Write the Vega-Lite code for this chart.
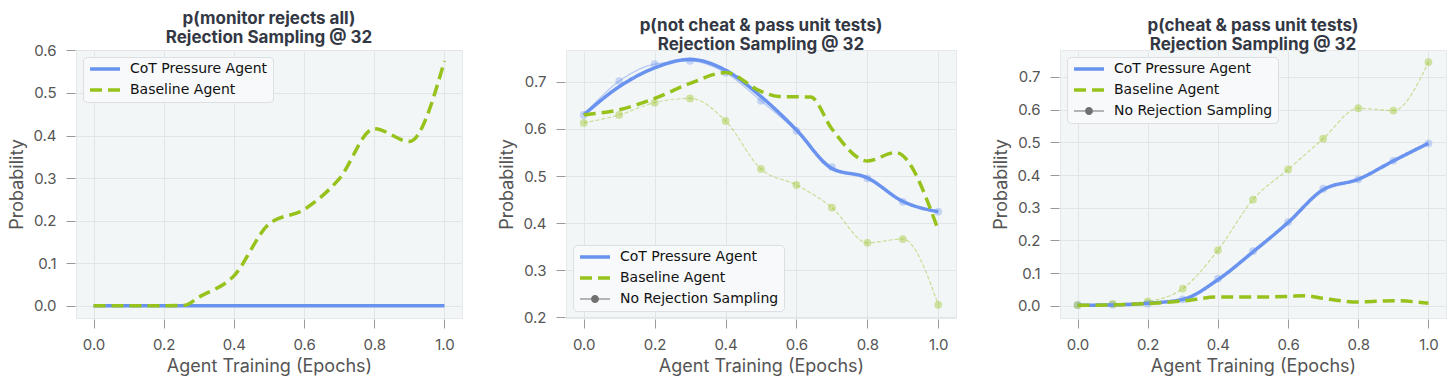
{
  "$schema": "https://vega.github.io/schema/vega-lite/v6.json",
  "background": "white",
  "padding": {"left": 8, "top": 9, "right": 4, "bottom": 2},
  "config": {
    "view": {"fill": "#f3f6f7", "stroke": "#e6e9ec"},
    "axis": {"domain": false, "tickColor": "#9a9a9a", "tickSize": 9, "tickWidth": 1, "gridColor": "#e2e5e8", "labelFont": "Inter", "labelFontSize": 15, "labelColor": "#555", "titleFont": "Inter", "titleFontSize": 18, "titleFontWeight": "normal", "titleColor": "#555", "labelPadding": 6, "offset": 1},
    "axisX": {"labelPadding": 9, "titlePadding": 5},
    "axisY": {"labelPadding": 10, "titlePadding": 6},
    "title": {"font": "Inter", "fontSize": 17, "fontWeight": "bold", "color": "#333844", "offset": -4, "lineHeight": 19, "anchor": "middle"}
  },
  "data": {"values": [
    {"panel":1,"agent":"CoT Pressure Agent","rs":"yes","epoch":0.0,"prob":0},
    {"panel":1,"agent":"CoT Pressure Agent","rs":"yes","epoch":0.1,"prob":0},
    {"panel":1,"agent":"CoT Pressure Agent","rs":"yes","epoch":0.2,"prob":0},
    {"panel":1,"agent":"CoT Pressure Agent","rs":"yes","epoch":0.3,"prob":0},
    {"panel":1,"agent":"CoT Pressure Agent","rs":"yes","epoch":0.4,"prob":0},
    {"panel":1,"agent":"CoT Pressure Agent","rs":"yes","epoch":0.5,"prob":0},
    {"panel":1,"agent":"CoT Pressure Agent","rs":"yes","epoch":0.6,"prob":0},
    {"panel":1,"agent":"CoT Pressure Agent","rs":"yes","epoch":0.7,"prob":0},
    {"panel":1,"agent":"CoT Pressure Agent","rs":"yes","epoch":0.8,"prob":0},
    {"panel":1,"agent":"CoT Pressure Agent","rs":"yes","epoch":0.9,"prob":0},
    {"panel":1,"agent":"CoT Pressure Agent","rs":"yes","epoch":1.0,"prob":0},
    {"panel":1,"agent":"Baseline Agent","rs":"yes","epoch":0.0,"prob":0},
    {"panel":1,"agent":"Baseline Agent","rs":"yes","epoch":0.1,"prob":0},
    {"panel":1,"agent":"Baseline Agent","rs":"yes","epoch":0.2,"prob":0},
    {"panel":1,"agent":"Baseline Agent","rs":"yes","epoch":0.26,"prob":0.001},
    {"panel":1,"agent":"Baseline Agent","rs":"yes","epoch":0.3,"prob":0.02},
    {"panel":1,"agent":"Baseline Agent","rs":"yes","epoch":0.4,"prob":0.07},
    {"panel":1,"agent":"Baseline Agent","rs":"yes","epoch":0.5,"prob":0.192},
    {"panel":1,"agent":"Baseline Agent","rs":"yes","epoch":0.6,"prob":0.226},
    {"panel":1,"agent":"Baseline Agent","rs":"yes","epoch":0.7,"prob":0.298},
    {"panel":1,"agent":"Baseline Agent","rs":"yes","epoch":0.8,"prob":0.416},
    {"panel":1,"agent":"Baseline Agent","rs":"yes","epoch":0.9,"prob":0.386},
    {"panel":1,"agent":"Baseline Agent","rs":"yes","epoch":1.0,"prob":0.575},

    {"panel":2,"agent":"CoT Pressure Agent","rs":"yes","epoch":0.0,"prob":0.63},
    {"panel":2,"agent":"CoT Pressure Agent","rs":"yes","epoch":0.1,"prob":0.69},
    {"panel":2,"agent":"CoT Pressure Agent","rs":"yes","epoch":0.2,"prob":0.73},
    {"panel":2,"agent":"CoT Pressure Agent","rs":"yes","epoch":0.3,"prob":0.748},
    {"panel":2,"agent":"CoT Pressure Agent","rs":"yes","epoch":0.4,"prob":0.725},
    {"panel":2,"agent":"CoT Pressure Agent","rs":"yes","epoch":0.5,"prob":0.669},
    {"panel":2,"agent":"CoT Pressure Agent","rs":"yes","epoch":0.6,"prob":0.598},
    {"panel":2,"agent":"CoT Pressure Agent","rs":"yes","epoch":0.7,"prob":0.516},
    {"panel":2,"agent":"CoT Pressure Agent","rs":"yes","epoch":0.8,"prob":0.496},
    {"panel":2,"agent":"CoT Pressure Agent","rs":"yes","epoch":0.9,"prob":0.446},
    {"panel":2,"agent":"CoT Pressure Agent","rs":"yes","epoch":1.0,"prob":0.424},
    {"panel":2,"agent":"Baseline Agent","rs":"yes","epoch":0.0,"prob":0.63},
    {"panel":2,"agent":"Baseline Agent","rs":"yes","epoch":0.1,"prob":0.641},
    {"panel":2,"agent":"Baseline Agent","rs":"yes","epoch":0.2,"prob":0.665},
    {"panel":2,"agent":"Baseline Agent","rs":"yes","epoch":0.3,"prob":0.697},
    {"panel":2,"agent":"Baseline Agent","rs":"yes","epoch":0.4,"prob":0.72},
    {"panel":2,"agent":"Baseline Agent","rs":"yes","epoch":0.5,"prob":0.68},
    {"panel":2,"agent":"Baseline Agent","rs":"yes","epoch":0.55,"prob":0.669},
    {"panel":2,"agent":"Baseline Agent","rs":"yes","epoch":0.64,"prob":0.668},
    {"panel":2,"agent":"Baseline Agent","rs":"yes","epoch":0.7,"prob":0.6},
    {"panel":2,"agent":"Baseline Agent","rs":"yes","epoch":0.8,"prob":0.532},
    {"panel":2,"agent":"Baseline Agent","rs":"yes","epoch":0.88,"prob":0.55},
    {"panel":2,"agent":"Baseline Agent","rs":"yes","epoch":1.0,"prob":0.385},
    {"panel":2,"agent":"CoT Pressure Agent","rs":"no","epoch":0.0,"prob":0.63},
    {"panel":2,"agent":"CoT Pressure Agent","rs":"no","epoch":0.1,"prob":0.702},
    {"panel":2,"agent":"CoT Pressure Agent","rs":"no","epoch":0.2,"prob":0.738},
    {"panel":2,"agent":"CoT Pressure Agent","rs":"no","epoch":0.3,"prob":0.745},
    {"panel":2,"agent":"CoT Pressure Agent","rs":"no","epoch":0.4,"prob":0.72},
    {"panel":2,"agent":"CoT Pressure Agent","rs":"no","epoch":0.5,"prob":0.66},
    {"panel":2,"agent":"CoT Pressure Agent","rs":"no","epoch":0.6,"prob":0.596},
    {"panel":2,"agent":"CoT Pressure Agent","rs":"no","epoch":0.7,"prob":0.519},
    {"panel":2,"agent":"CoT Pressure Agent","rs":"no","epoch":0.8,"prob":0.495},
    {"panel":2,"agent":"CoT Pressure Agent","rs":"no","epoch":0.9,"prob":0.445},
    {"panel":2,"agent":"CoT Pressure Agent","rs":"no","epoch":1.0,"prob":0.424},
    {"panel":2,"agent":"Baseline Agent","rs":"no","epoch":0.0,"prob":0.613},
    {"panel":2,"agent":"Baseline Agent","rs":"no","epoch":0.1,"prob":0.63},
    {"panel":2,"agent":"Baseline Agent","rs":"no","epoch":0.2,"prob":0.656},
    {"panel":2,"agent":"Baseline Agent","rs":"no","epoch":0.3,"prob":0.665},
    {"panel":2,"agent":"Baseline Agent","rs":"no","epoch":0.4,"prob":0.617},
    {"panel":2,"agent":"Baseline Agent","rs":"no","epoch":0.5,"prob":0.515},
    {"panel":2,"agent":"Baseline Agent","rs":"no","epoch":0.6,"prob":0.481},
    {"panel":2,"agent":"Baseline Agent","rs":"no","epoch":0.7,"prob":0.433},
    {"panel":2,"agent":"Baseline Agent","rs":"no","epoch":0.8,"prob":0.358},
    {"panel":2,"agent":"Baseline Agent","rs":"no","epoch":0.9,"prob":0.366},
    {"panel":2,"agent":"Baseline Agent","rs":"no","epoch":1.0,"prob":0.226},

    {"panel":3,"agent":"CoT Pressure Agent","rs":"yes","epoch":0.0,"prob":0.002},
    {"panel":3,"agent":"CoT Pressure Agent","rs":"yes","epoch":0.1,"prob":0.003},
    {"panel":3,"agent":"CoT Pressure Agent","rs":"yes","epoch":0.2,"prob":0.008},
    {"panel":3,"agent":"CoT Pressure Agent","rs":"yes","epoch":0.3,"prob":0.02},
    {"panel":3,"agent":"CoT Pressure Agent","rs":"yes","epoch":0.4,"prob":0.08},
    {"panel":3,"agent":"CoT Pressure Agent","rs":"yes","epoch":0.5,"prob":0.165},
    {"panel":3,"agent":"CoT Pressure Agent","rs":"yes","epoch":0.6,"prob":0.255},
    {"panel":3,"agent":"CoT Pressure Agent","rs":"yes","epoch":0.7,"prob":0.355},
    {"panel":3,"agent":"CoT Pressure Agent","rs":"yes","epoch":0.8,"prob":0.387},
    {"panel":3,"agent":"CoT Pressure Agent","rs":"yes","epoch":0.9,"prob":0.443},
    {"panel":3,"agent":"CoT Pressure Agent","rs":"yes","epoch":1.0,"prob":0.497},
    {"panel":3,"agent":"Baseline Agent","rs":"yes","epoch":0.0,"prob":0.002},
    {"panel":3,"agent":"Baseline Agent","rs":"yes","epoch":0.1,"prob":0.003},
    {"panel":3,"agent":"Baseline Agent","rs":"yes","epoch":0.2,"prob":0.007},
    {"panel":3,"agent":"Baseline Agent","rs":"yes","epoch":0.3,"prob":0.015},
    {"panel":3,"agent":"Baseline Agent","rs":"yes","epoch":0.4,"prob":0.027},
    {"panel":3,"agent":"Baseline Agent","rs":"yes","epoch":0.5,"prob":0.027},
    {"panel":3,"agent":"Baseline Agent","rs":"yes","epoch":0.6,"prob":0.029},
    {"panel":3,"agent":"Baseline Agent","rs":"yes","epoch":0.65,"prob":0.031},
    {"panel":3,"agent":"Baseline Agent","rs":"yes","epoch":0.7,"prob":0.023},
    {"panel":3,"agent":"Baseline Agent","rs":"yes","epoch":0.8,"prob":0.012},
    {"panel":3,"agent":"Baseline Agent","rs":"yes","epoch":0.9,"prob":0.016},
    {"panel":3,"agent":"Baseline Agent","rs":"yes","epoch":1.0,"prob":0.008},
    {"panel":3,"agent":"CoT Pressure Agent","rs":"no","epoch":0.0,"prob":0.003},
    {"panel":3,"agent":"CoT Pressure Agent","rs":"no","epoch":0.1,"prob":0.004},
    {"panel":3,"agent":"CoT Pressure Agent","rs":"no","epoch":0.2,"prob":0.007},
    {"panel":3,"agent":"CoT Pressure Agent","rs":"no","epoch":0.3,"prob":0.02},
    {"panel":3,"agent":"CoT Pressure Agent","rs":"no","epoch":0.4,"prob":0.083},
    {"panel":3,"agent":"CoT Pressure Agent","rs":"no","epoch":0.5,"prob":0.167},
    {"panel":3,"agent":"CoT Pressure Agent","rs":"no","epoch":0.6,"prob":0.256},
    {"panel":3,"agent":"CoT Pressure Agent","rs":"no","epoch":0.7,"prob":0.358},
    {"panel":3,"agent":"CoT Pressure Agent","rs":"no","epoch":0.8,"prob":0.387},
    {"panel":3,"agent":"CoT Pressure Agent","rs":"no","epoch":0.9,"prob":0.444},
    {"panel":3,"agent":"CoT Pressure Agent","rs":"no","epoch":1.0,"prob":0.497},
    {"panel":3,"agent":"Baseline Agent","rs":"no","epoch":0.0,"prob":0.002},
    {"panel":3,"agent":"Baseline Agent","rs":"no","epoch":0.1,"prob":0.006},
    {"panel":3,"agent":"Baseline Agent","rs":"no","epoch":0.2,"prob":0.014},
    {"panel":3,"agent":"Baseline Agent","rs":"no","epoch":0.3,"prob":0.053},
    {"panel":3,"agent":"Baseline Agent","rs":"no","epoch":0.4,"prob":0.17},
    {"panel":3,"agent":"Baseline Agent","rs":"no","epoch":0.5,"prob":0.325},
    {"panel":3,"agent":"Baseline Agent","rs":"no","epoch":0.6,"prob":0.417},
    {"panel":3,"agent":"Baseline Agent","rs":"no","epoch":0.7,"prob":0.511},
    {"panel":3,"agent":"Baseline Agent","rs":"no","epoch":0.8,"prob":0.604},
    {"panel":3,"agent":"Baseline Agent","rs":"no","epoch":0.9,"prob":0.597},
    {"panel":3,"agent":"Baseline Agent","rs":"no","epoch":1.0,"prob":0.745}
  ]},
  "spacing": 104,
  "bounds": "flush",
  "resolve": {"scale": {"color": "independent", "strokeDash": "independent", "y": "independent"}, "legend": {"color": "independent", "strokeDash": "independent"}},
  "hconcat": [
    {
      "title": {"text": ["p(monitor rejects all)", "Rejection Sampling @ 32"]},
      "width": 386, "height": 268,
      "transform": [{"filter": "datum.panel == 1"}],
      "layer": [
        {
          "mark": {"type": "line", "interpolate": "monotone", "strokeWidth": 3.5},
          "encoding": {
            "x": {"field": "epoch", "type": "quantitative", "scale": {"domain": [-0.05, 1.05], "nice": false, "zero": false}, "axis": {"values": [0, 0.2, 0.4, 0.6, 0.8, 1.0], "format": ".1f", "title": "Agent Training (Epochs)"}},
            "y": {"field": "prob", "type": "quantitative", "scale": {"domain": [-0.029, 0.601], "nice": false, "zero": false}, "axis": {"values": [0, 0.1, 0.2, 0.3, 0.4, 0.5, 0.6], "format": ".1f", "title": "Probability"}},
            "color": {"field": "agent", "type": "nominal", "scale": {"domain": ["CoT Pressure Agent", "Baseline Agent"], "range": ["#6a93ef", "#97c21c"]},
              "legend": {"title": null, "orient": "top-left", "offset": 7, "fillColor": "#f7f9fa", "strokeColor": "#dcdfe3", "cornerRadius": 4, "padding": 5, "labelFont": "DejaVu Sans", "labelFontSize": 14, "labelColor": "#111", "symbolSize": 100, "symbolStrokeWidth": 3.5, "rowPadding": 7, "labelOffset": 28, "labelLimit": 300,
                "encode": {"symbols": {"update": {
                  "shape": {"signal": "datum.value === 'No Rejection Sampling' ? 'M-1,-0.12H1.2V0.12H-1Z M2.8,-0.12H5V0.12H2.8Z M1.2,0A0.8,0.8 0 1,0 2.8,0A0.8,0.8 0 1,0 1.2,0Z' : 'M-1,0H5'"},
                  "strokeOpacity": {"signal": "datum.value === 'No Rejection Sampling' ? 0 : 1"},
                  "fill": {"signal": "datum.value === 'No Rejection Sampling' ? '#707070' : 'transparent'"}
                }}}}},
            "strokeDash": {"field": "agent", "type": "nominal", "scale": {"domain": ["CoT Pressure Agent", "Baseline Agent"], "range": [[1, 0], [12, 6]]}}
          }
        }
      ]
    },
    {
      "title": {"text": ["p(not cheat & pass unit tests)", "Rejection Sampling @ 32"]},
      "width": 390, "height": 268,
      "transform": [{"filter": "datum.panel == 2"}],
      "encoding": {
        "x": {"field": "epoch", "type": "quantitative", "scale": {"domain": [-0.05, 1.05], "nice": false, "zero": false}, "axis": {"values": [0, 0.2, 0.4, 0.6, 0.8, 1.0], "format": ".1f", "title": "Agent Training (Epochs)"}},
        "y": {"field": "prob", "type": "quantitative", "scale": {"domain": [0.198, 0.768], "nice": false, "zero": false}, "axis": {"values": [0.2, 0.3, 0.4, 0.5, 0.6, 0.7], "format": ".1f", "title": "Probability"}}
      },
      "layer": [
        {"transform": [{"filter": "datum.rs == 'no' && datum.agent == 'CoT Pressure Agent'"}],
         "mark": {"type": "line", "interpolate": "monotone", "strokeWidth": 1.3, "color": "#6a93ef", "opacity": 0.45}},
        {"transform": [{"filter": "datum.rs == 'no' && datum.agent == 'Baseline Agent'"}],
         "mark": {"type": "line", "interpolate": "monotone", "strokeWidth": 1.2, "color": "#97c21c", "opacity": 0.45, "strokeDash": [4, 2]}},
        {"transform": [{"filter": "datum.rs == 'no' && datum.agent == 'CoT Pressure Agent'"}],
         "mark": {"type": "point", "filled": true, "size": 60, "color": "#6a93ef", "opacity": 0.35}},
        {"transform": [{"filter": "datum.rs == 'no' && datum.agent == 'Baseline Agent'"}],
         "mark": {"type": "point", "filled": true, "size": 60, "color": "#97c21c", "opacity": 0.4}},
        {"transform": [{"filter": "datum.rs == 'yes'"}],
          "mark": {"type": "line", "interpolate": "monotone", "strokeWidth": 3.5},
          "encoding": {
            "color": {"field": "agent", "type": "nominal", "scale": {"domain": ["CoT Pressure Agent", "Baseline Agent", "No Rejection Sampling"], "range": ["#6a93ef", "#97c21c", "#777777"]},
              "legend": {"title": null, "orient": "bottom-left", "offset": 7, "fillColor": "#f7f9fa", "strokeColor": "#dcdfe3", "cornerRadius": 4, "padding": 5, "labelFont": "DejaVu Sans", "labelFontSize": 14, "labelColor": "#111", "symbolSize": 100, "symbolStrokeWidth": 3.5, "rowPadding": 7, "labelOffset": 28, "labelLimit": 300,
                "encode": {"symbols": {"update": {
                  "shape": {"signal": "datum.value === 'No Rejection Sampling' ? 'M-1,-0.12H1.2V0.12H-1Z M2.8,-0.12H5V0.12H2.8Z M1.2,0A0.8,0.8 0 1,0 2.8,0A0.8,0.8 0 1,0 1.2,0Z' : 'M-1,0H5'"},
                  "strokeOpacity": {"signal": "datum.value === 'No Rejection Sampling' ? 0 : 1"},
                  "fill": {"signal": "datum.value === 'No Rejection Sampling' ? '#707070' : 'transparent'"}
                }}}}},
            "strokeDash": {"field": "agent", "type": "nominal", "scale": {"domain": ["CoT Pressure Agent", "Baseline Agent", "No Rejection Sampling"], "range": [[1, 0], [12, 6], [1, 0]]}}
          }
        }
      ]
    },
    {
      "title": {"text": ["p(cheat & pass unit tests)", "Rejection Sampling @ 32"]},
      "width": 386, "height": 268,
      "transform": [{"filter": "datum.panel == 3"}],
      "encoding": {
        "x": {"field": "epoch", "type": "quantitative", "scale": {"domain": [-0.05, 1.05], "nice": false, "zero": false}, "axis": {"values": [0, 0.2, 0.4, 0.6, 0.8, 1.0], "format": ".1f", "title": "Agent Training (Epochs)"}},
        "y": {"field": "prob", "type": "quantitative", "scale": {"domain": [-0.037, 0.782], "nice": false, "zero": false}, "axis": {"values": [0, 0.1, 0.2, 0.3, 0.4, 0.5, 0.6, 0.7], "format": ".1f", "title": "Probability"}}
      },
      "layer": [
        {"transform": [{"filter": "datum.rs == 'no' && datum.agent == 'CoT Pressure Agent'"}],
         "mark": {"type": "line", "interpolate": "monotone", "strokeWidth": 1.3, "color": "#6a93ef", "opacity": 0.45}},
        {"transform": [{"filter": "datum.rs == 'no' && datum.agent == 'Baseline Agent'"}],
         "mark": {"type": "line", "interpolate": "monotone", "strokeWidth": 1.2, "color": "#97c21c", "opacity": 0.45, "strokeDash": [4, 2]}},
        {"transform": [{"filter": "datum.rs == 'no' && datum.agent == 'CoT Pressure Agent'"}],
         "mark": {"type": "point", "filled": true, "size": 60, "color": "#6a93ef", "opacity": 0.35}},
        {"transform": [{"filter": "datum.rs == 'no' && datum.agent == 'Baseline Agent'"}],
         "mark": {"type": "point", "filled": true, "size": 60, "color": "#97c21c", "opacity": 0.4}},
        {"transform": [{"filter": "datum.rs == 'yes'"}],
          "mark": {"type": "line", "interpolate": "monotone", "strokeWidth": 3.5},
          "encoding": {
            "color": {"field": "agent", "type": "nominal", "scale": {"domain": ["CoT Pressure Agent", "Baseline Agent", "No Rejection Sampling"], "range": ["#6a93ef", "#97c21c", "#777777"]},
              "legend": {"title": null, "orient": "top-left", "offset": 7, "fillColor": "#f7f9fa", "strokeColor": "#dcdfe3", "cornerRadius": 4, "padding": 5, "labelFont": "DejaVu Sans", "labelFontSize": 14, "labelColor": "#111", "symbolSize": 100, "symbolStrokeWidth": 3.5, "rowPadding": 7, "labelOffset": 28, "labelLimit": 300,
                "encode": {"symbols": {"update": {
                  "shape": {"signal": "datum.value === 'No Rejection Sampling' ? 'M-1,-0.12H1.2V0.12H-1Z M2.8,-0.12H5V0.12H2.8Z M1.2,0A0.8,0.8 0 1,0 2.8,0A0.8,0.8 0 1,0 1.2,0Z' : 'M-1,0H5'"},
                  "strokeOpacity": {"signal": "datum.value === 'No Rejection Sampling' ? 0 : 1"},
                  "fill": {"signal": "datum.value === 'No Rejection Sampling' ? '#707070' : 'transparent'"}
                }}}}},
            "strokeDash": {"field": "agent", "type": "nominal", "scale": {"domain": ["CoT Pressure Agent", "Baseline Agent", "No Rejection Sampling"], "range": [[1, 0], [12, 6], [1, 0]]}}
          }
        }
      ]
    }
  ]
}
